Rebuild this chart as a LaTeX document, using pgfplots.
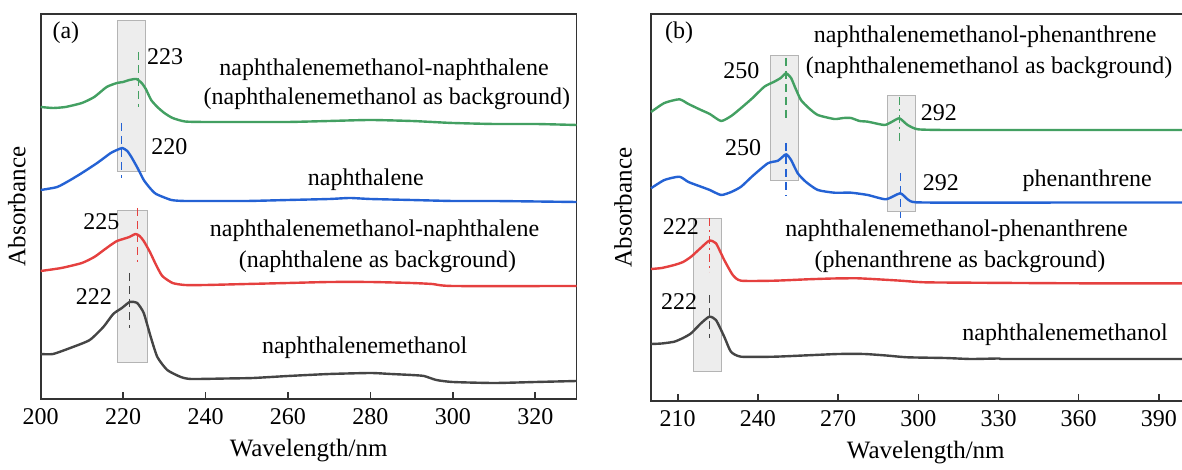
\documentclass[border=0pt]{standalone}
\usepackage{fontspec}
\setmainfont{Liberation Serif}
\usepackage{pgfplots}
\pgfplotsset{compat=1.18}
\definecolor{cgreen}{HTML}{43A062}
\definecolor{cblue}{HTML}{2462D4}
\definecolor{cred}{HTML}{E5403F}
\definecolor{cblack}{HTML}{454545}
\definecolor{boxfill}{HTML}{EDEDED}
\definecolor{boxdraw}{HTML}{B4B4B4}
\tikzset{lab/.style={font=\fontsize{12}{14}\selectfont, inner sep=0pt}}
\pgfplotsset{
  common/.style={
    scale only axis, anchor=south west, y dir=reverse, ytick=\empty,
    xtick pos=bottom, tick align=inside, major tick length=3.5pt,
    axis line style={line width=0.9pt, black!80},
    tick style={line width=0.8pt, black!80},
    ticklabel style={font=\fontsize{12}{14}\selectfont, yshift=-1pt},
    /pgf/number format/assume math mode=true,
    label style={font=\fontsize{12.5}{15}\selectfont},
    clip=false,
  },
  curve/.style={line width=1.2pt, line join=round, smooth, tension=0.35},
  peak/.style={line width=0.6pt, dash pattern=on 4pt off 2.5pt},
  peakdd/.style={line width=0.6pt, dash pattern=on 4pt off 2pt on 1pt off 2pt},
  gbox/.style={fill=boxfill, draw=boxdraw, line width=0.5pt},
}
\begin{document}
\begin{tikzpicture}
\useasboundingbox (0,0) rectangle (591pt,235pt);
% ---------------- panel (a)
\begin{axis}[common, at={(20.35pt,35.5pt)}, width=267.9pt, height=192.5pt,
  xmin=200, xmax=330, ymin=14, ymax=399, xtick={200,220,...,320},
  xlabel={Wavelength/nm}, ylabel={Absorbance},
  xlabel style={at={(axis description cs:0.5,0)}, anchor=center, yshift=-26pt},
  ylabel style={at={(axis description cs:0,0.5)}, anchor=center, yshift=12pt}]
\addplot[gbox] coordinates {(218.6,21)(225.4,21)(225.4,172)(218.6,172)} -- cycle;
\addplot[gbox] coordinates {(218.7,211)(225.8,211)(225.8,362)(218.7,362)} -- cycle;
\addplot[peak, cgreen] coordinates {(223.8,52)(223.8,107)};
\addplot[peak, cblue] coordinates {(219.7,123)(219.7,178)};
\addplot[peak, cred] coordinates {(223.5,208)(223.5,262)};
\addplot[peak, cblack] coordinates {(221.6,273)(221.6,328)};
\addplot[curve, cgreen] coordinates {(200,107)(203,108)(206,107)(210,103)(213,97)(216,87)(218.5,83)(220,82)(221.5,80)(223.2,79)(224.5,83)(225.5,89)(226.8,100)(228.3,107)(230,113)(232,118)(235,121.5)(240,122)(250,122)(260,122)(270,121)(280,120)(290,121)(295,122)(300,123)(310,124)(320,124)(330,125)};
\addplot[curve, cblue] coordinates {(200,190)(204,187)(207.2,180)(210,173)(213.7,163)(217,153)(218.5,150)(219.8,148)(221,151)(222,157)(223.5,168)(225,180)(226.5,188)(228,194)(231.7,200)(235,201)(240,201)(250,201)(260,200)(270,199)(275,198)(280,199)(290,200)(300,201)(310,201)(330,202)};
\addplot[curve, cred] coordinates {(200,271)(205,268)(210,263)(213,257)(215,251)(217,245)(218.5,241)(220,239)(221.5,237)(223,234)(224,236)(225,241)(226.5,252)(228,265)(229.5,276)(232,283)(235,285)(240,285)(250,284)(260,283)(270,282)(280,282)(290,283)(295,284)(300,286)(330,286)};
\addplot[curve, cblack] coordinates {(200,354)(203,354)(207.8,347)(211.9,340)(215.2,327)(217.6,314)(219.7,308)(221.6,302)(223.4,303)(225,313)(226.7,337)(228.3,357)(230.7,370)(234,377)(236.5,379)(245,378.5)(251.5,378)(260,376)(270,374)(280,373)(285,374)(290,375)(293,376)(296,380)(300,382)(310,383)(320,382)(330,381)};
\node[lab] at (axis cs:206.1,33) {(a)};
\node[lab] at (axis cs:230.2,57) {223};
\node[lab] at (axis cs:231.2,147) {220};
\node[lab] at (axis cs:214.7,222) {225};
\node[lab] at (axis cs:212.9,297) {222};
\node[lab] at (axis cs:283.3,70) {naphthalenemethanol-naphthalene};
\node[lab] at (axis cs:284,99) {(naphthalenemethanol as background)};
\node[lab] at (axis cs:278.9,180) {naphthalene};
\node[lab] at (axis cs:281,231) {naphthalenemethanol-naphthalene};
\node[lab] at (axis cs:281.7,262) {(naphthalene as background)};
\node[lab] at (axis cs:278.6,348) {naphthalenemethanol};
\end{axis}
% ---------------- panel (b)
\begin{axis}[common, at={(325.5pt,34.5pt)}, width=267.3pt, height=193.5pt,
  xmin=200, xmax=400, ymin=14, ymax=401, xtick={210,240,...,390},
  xlabel={Wavelength/nm}, ylabel={Absorbance},
  xlabel style={at={(axis description cs:0.514,0)}, anchor=center, yshift=-26pt},
  ylabel style={at={(axis description cs:0,0.5)}, anchor=center, yshift=14pt}]
\addplot[gbox] coordinates {(244.6,56)(255.1,56)(255.1,180.7)(244.6,180.7)} -- cycle;
\addplot[gbox] coordinates {(288.3,96)(298.9,96)(298.9,211.7)(288.3,211.7)} -- cycle;
\addplot[gbox] coordinates {(216,219)(226.5,219)(226.5,371.7)(216,371.7)} -- cycle;
\addplot[peak, cgreen] coordinates {(250.5,58)(250.5,118)};
\addplot[peak, cblue] coordinates {(250.5,143)(250.5,196)};
\addplot[peakdd, cgreen] coordinates {(292.9,97)(292.9,142)};
\addplot[peak, cblue] coordinates {(293.2,173)(293.2,218)};
\addplot[peakdd, cred] coordinates {(221.8,218)(221.8,272)};
\addplot[peak, cblack] coordinates {(221.8,295)(221.8,338)};
\addplot[curve, cgreen] coordinates {(200,112)(205,103)(210.6,99.3)(214,104)(218.7,110)(222,114)(226.2,121)(230,116)(233.7,108)(238,98)(242.4,86.7)(246.1,81.7)(248.5,78)(250.5,73.3)(252.4,78)(254,88)(256.1,100)(259,108)(262.4,115)(268.6,119)(272,118)(274.8,118)(278,121)(281.1,121.7)(287.3,125)(290,122)(292.9,118.3)(296,125)(299.8,129.3)(310,130)(330,130)(360,130)(400,130)};
\addplot[curve, cblue] coordinates {(200,188.3)(205,180)(210.6,176.7)(214,182)(218.7,186.7)(222,190)(226.2,195)(230,192)(233.7,186.7)(238,176)(243.7,163.3)(247.5,160.7)(250.5,154.3)(252.4,160)(254.9,173.3)(258,182)(262.4,190)(268.6,192.7)(274.8,192.7)(281.1,195)(287.9,199.3)(293.2,193.3)(296,199.3)(299.1,202.3)(319.7,202.7)(360,202.5)(400,202.5)};
\addplot[curve, cred] coordinates {(200,269)(204,268)(208.7,265)(212,262)(215,256.7)(218.7,247.7)(221.8,240.7)(224.3,243.3)(227.4,260)(230.6,275)(233.7,280.7)(246.1,280.7)(258.6,279.3)(268,278.5)(277.3,278.3)(286,279.5)(293.5,280.7)(302.3,282.3)(319.7,282.7)(360,283.3)(400,283.3)};
\addplot[curve, cblack] coordinates {(200,344)(204,343.5)(208.7,341.7)(212,338)(215,333.3)(218.7,323.3)(221.8,316.7)(224.3,320)(227.4,336.7)(229.9,351.7)(233.7,356.7)(246.1,356.7)(258.6,355.3)(270,354)(279.8,354)(288,355.5)(296,357.3)(310,358)(319.7,359)(330,358.5)(332,359)(360,359)(400,359)};
\node[lab] at (axis cs:210.5,33) {(b)};
\node[lab] at (axis cs:325,37) {naphthalenemethanol-phenanthrene};
\node[lab] at (axis cs:326.5,68) {(naphthalenemethanol as background)};
\node[lab] at (axis cs:233.8,71) {250};
\node[lab] at (axis cs:307.7,113) {292};
\node[lab] at (axis cs:234.5,148) {250};
\node[lab] at (axis cs:308.4,183) {292};
\node[lab] at (axis cs:363.2,181) {phenanthrene};
\node[lab] at (axis cs:211.2,227) {222};
\node[lab] at (axis cs:314.3,231) {naphthalenemethanol-phenanthrene};
\node[lab] at (axis cs:315.6,262) {(phenanthrene as background)};
\node[lab] at (axis cs:210.5,302) {222};
\node[lab] at (axis cs:354.9,335) {naphthalenemethanol};
\end{axis}
\end{tikzpicture}
\end{document}
